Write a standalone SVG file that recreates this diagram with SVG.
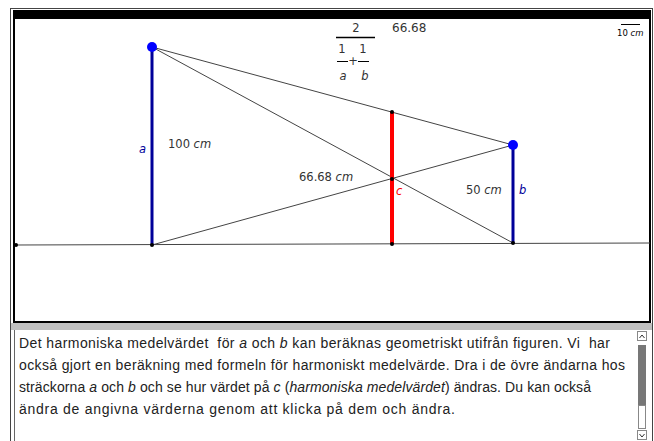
<svg xmlns="http://www.w3.org/2000/svg" width="654" height="441" viewBox="0 0 654 441">
<style>
.t{font-family:"DejaVu Sans",sans-serif;font-size:11.5px;fill:#333}
.i{font-style:italic}
.ln{stroke:#444;stroke-width:1;fill:none}
.dot{fill:#000}
.bt{font-family:"Liberation Sans",Arial,sans-serif;font-size:14px;fill:#222}
</style>
<rect x="0" y="0" width="654" height="441" fill="#fff"/>
<g id="frame">
<rect x="10.5" y="8.5" width="642" height="440" fill="none" stroke="#444" stroke-width="1"/>
<rect x="14" y="11" width="636" height="311" fill="#fff" stroke="#000" stroke-width="2"/>
<rect x="14" y="11" width="636" height="8" fill="#000"/>
<rect x="11" y="323" width="641" height="7" fill="#c0c0c0"/>
<line x1="14.5" y1="330" x2="14.5" y2="441" stroke="#666" stroke-width="1"/>
</g>
<g id="connectors">
<line class="ln" x1="15" y1="245" x2="650" y2="243"/>
<line class="ln" x1="152" y1="47" x2="513" y2="145"/>
<line class="ln" x1="152" y1="47" x2="513" y2="243"/>
<line class="ln" x1="152" y1="245" x2="513" y2="145"/>
<line x1="152" y1="47" x2="152" y2="245" stroke="#000099" stroke-width="3"/>
<line x1="513" y1="145" x2="513" y2="243" stroke="#000099" stroke-width="3"/>
<line x1="392" y1="112" x2="392" y2="244" stroke="#ff0000" stroke-width="4"/>
</g>
<g id="points">
<circle cx="152" cy="47" r="5" fill="#0000ff"/>
<circle cx="513" cy="145" r="5" fill="#0000ff"/>
<circle class="dot" cx="16" cy="245" r="2"/>
<circle class="dot" cx="152" cy="245" r="2"/>
<circle class="dot" cx="392" cy="244" r="2"/>
<circle class="dot" cx="513" cy="243" r="2"/>
<circle class="dot" cx="392" cy="112" r="2"/>
<circle class="dot" cx="392" cy="179" r="2"/>
</g>
<g id="labels">
<text class="t i" x="139" y="153" style="fill:#000099">a</text>
<text class="t" x="168" y="148">100 <tspan class="i">cm</tspan></text>
<text class="t" x="299" y="181">66.68 <tspan class="i">cm</tspan></text>
<text class="t i" x="396" y="195" style="fill:#ff0000">c</text>
<text class="t" x="466" y="194">50 <tspan class="i">cm</tspan></text>
<text class="t i" x="519" y="194" style="fill:#000099">b</text>
</g>
<g id="formula">
<text class="t" x="356" y="32" text-anchor="middle">2</text>
<line x1="336" y1="37.5" x2="375" y2="37.5" stroke="#000" stroke-width="1.5"/>
<text class="t" x="342" y="53" text-anchor="middle">1</text>
<text class="t" x="363" y="53" text-anchor="middle">1</text>
<line x1="337" y1="61.5" x2="348" y2="61.5" stroke="#000" stroke-width="1"/>
<line x1="358" y1="61.5" x2="369" y2="61.5" stroke="#000" stroke-width="1"/>
<text class="t" x="353" y="65" text-anchor="middle">+</text>
<text class="t i" x="343" y="80" text-anchor="middle">a</text>
<text class="t i" x="365" y="80" text-anchor="middle">b</text>
<text class="t" x="392" y="32" style="font-size:12px">66.68</text>
</g>
<g id="scale">
<line x1="621" y1="24.5" x2="640" y2="24.5" stroke="#000" stroke-width="1"/>
<text class="t" x="617" y="36" style="font-size:8.5px;fill:#000">10 <tspan class="i">cm</tspan></text>
</g>
<g id="textarea">
<text class="bt" xml:space="preserve" x="19" y="348" textLength="591" lengthAdjust="spacing">Det harmoniska medelvärdet  för <tspan font-style="italic">a</tspan> och <tspan font-style="italic">b</tspan> kan beräknas geometriskt utifrån figuren. Vi  har</text>
<text class="bt" x="19" y="370" textLength="606" lengthAdjust="spacing">också gjort en beräkning med formeln för harmoniskt medelvärde. Dra i de övre ändarna hos</text>
<text class="bt" x="19" y="392" textLength="572" lengthAdjust="spacing">sträckorna <tspan font-style="italic">a</tspan> och <tspan font-style="italic">b</tspan> och se hur värdet på <tspan font-style="italic">c</tspan> (<tspan font-style="italic">harmoniska medelvärdet</tspan>) ändras. Du kan också</text>
<text class="bt" x="19" y="414" textLength="436" lengthAdjust="spacing">ändra de angivna värderna genom att klicka på dem och ändra.</text>
</g>
<g id="scrollbar">
<rect x="637.5" y="331.5" width="9" height="9" fill="#fff" stroke="#888"/>
<path d="M639.5 338 L642 335 L644.5 338" fill="none" stroke="#333"/>
<rect x="638" y="345" width="8" height="60" fill="#777"/>
<rect x="638.5" y="405.5" width="7" height="23" fill="#fff" stroke="#888"/>
<rect x="637.5" y="430.5" width="9" height="9" fill="#fff" stroke="#888"/>
<path d="M639.5 434 L642 437 L644.5 434" fill="none" stroke="#333"/>
</g>
</svg>
